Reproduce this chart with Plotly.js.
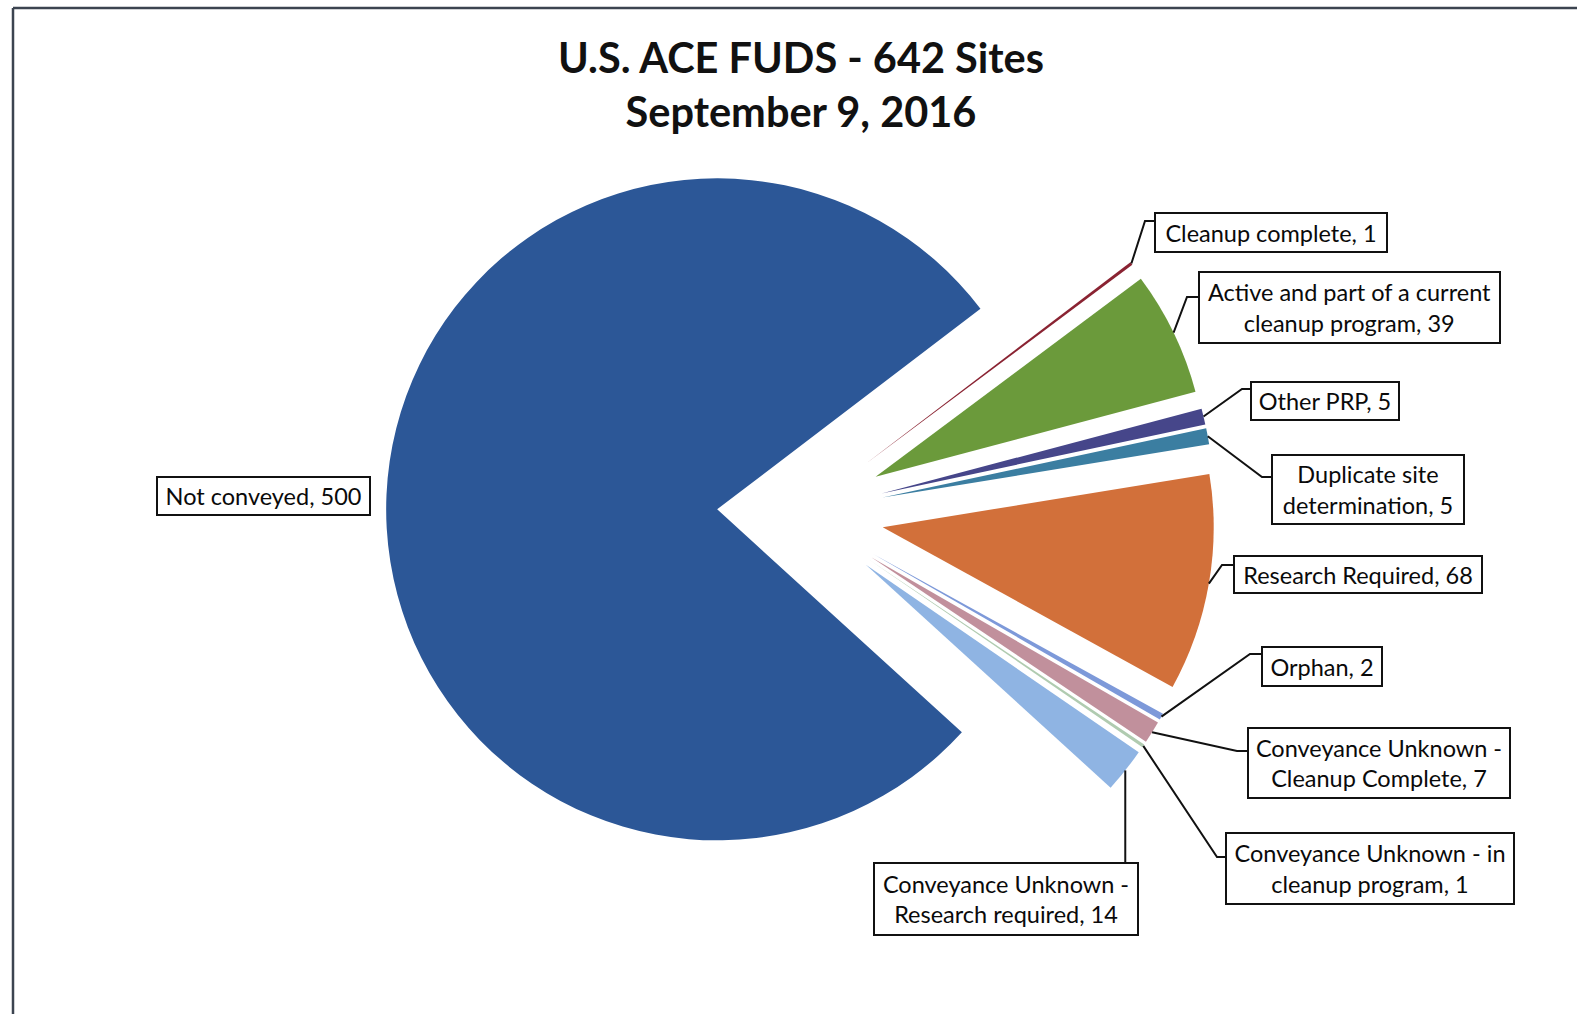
<!DOCTYPE html>
<html><head><meta charset="utf-8">
<script src="https://cdn.plot.ly/plotly-3.0.1.min.js"></script>
<style>html,body{margin:0;padding:0;background:#fff;}#chart{width:1577px;height:1014px;}</style>
</head><body><div id="chart"></div>
<script>
// ---- data ----
const categories = ['Cleanup complete', 'Active and part of a current cleanup program', 'Other PRP',
  'Duplicate site determination', 'Research Required', 'Orphan',
  'Conveyance Unknown - Cleanup Complete', 'Conveyance Unknown - in cleanup program',
  'Conveyance Unknown - Research required', 'Not conveyed'];
const siteCounts = [1, 39, 5, 5, 68, 2, 7, 1, 14, 500];
const sliceColors = ['#8a2332', '#6b9a3b', '#46468a', '#3b7ea1', '#d2703a', '#7d99d9',
  '#c1909c', '#b0cbb0', '#8fb4e3', '#2c5797'];
const titleText = 'U.S. ACE FUDS - 642 Sites<br>September 9, 2016';

// ---- layout (pixels) ----
const W = 1577, H = 1014;
const pieCx = 800.5, pieCy = 513, pieR = 331, pullFrac = 0.252, rotationDeg = 52.7;
const breakAfterWord = [0, 6, 0, 2, 0, 0, 3, 4, 3, 0];
const boxes = [ // [left, right, top, bottom]
  [1155, 1387, 213, 252], [1199, 1500, 272, 343], [1251, 1399, 382, 420], [1272, 1464, 455, 524],
  [1234, 1482, 556, 593], [1262, 1382, 647, 686], [1248, 1510, 728, 798], [1226, 1514, 833, 904],
  [874, 1138, 863, 935], [157, 370, 477, 515]];
const elbows = [[1145, 221], [1187, 297], [1242, 389], [1262, 477], [1222, 565], [1250, 654],
  [1237, 751], [1217, 857], 'down', null];

const px = x => x / W, py = y => 1 - y / H;
const half = pieR * (1 + pullFrac);

function labelText(i) {
  const words = (categories[i] + ', ' + siteCounts[i]).split(' ');
  const k = breakAfterWord[i];
  if (!k) return words.join(' ');
  return words.slice(0, k).join(' ') + '<br>' + words.slice(k).join(' ');
}

const total = siteCounts.reduce((a, b) => a + b, 0);
let cum = 0;
const shapes = [];
const annotations = [];
siteCounts.forEach((v, i) => {
  const midDeg = rotationDeg + 360 * (cum + v / 2) / total;
  cum += v;
  const a = midDeg * Math.PI / 180;
  const tipX = pieCx + half * Math.sin(a), tipY = pieCy - half * Math.cos(a);
  const b = boxes[i];
  annotations.push({
    xref: 'paper', yref: 'paper', x: px((b[0] + b[1]) / 2), y: py((b[2] + b[3]) / 2),
    xanchor: 'center', yanchor: 'middle', showarrow: false, text: labelText(i),
    font: {family: 'Lato, "Open Sans", sans-serif', size: 23.5, color: '#0a0a0a'},
    bgcolor: '#ffffff', bordercolor: '#111', borderwidth: 2, borderpad: 0,
    width: b[1] - b[0] - 2, height: b[3] - b[2] - 2, align: 'center'
  });
  const e = elbows[i];
  if (e === 'down') {
    shapes.push({type: 'line', xref: 'paper', yref: 'paper', x0: px(tipX), y0: py(tipY), x1: px(tipX), y1: py(b[2]),
      line: {color: '#111', width: 2}});
  } else if (e) {
    shapes.push({type: 'path', xref: 'paper', yref: 'paper',
      path: `M ${px(tipX)},${py(tipY)} L ${px(e[0])},${py(e[1])} L ${px(b[0])},${py(e[1])}`,
      line: {color: '#111', width: 2}});
  }
});

// frame
shapes.push({type: 'line', xref: 'paper', yref: 'paper', x0: px(13), y0: py(8), x1: 1, y1: py(8), line: {color: '#3c4450', width: 2.5}});
shapes.push({type: 'line', xref: 'paper', yref: 'paper', x0: px(13), y0: py(8), x1: px(13), y1: 0, line: {color: '#3c4450', width: 2.5}});

const trace = {
  type: 'pie', labels: categories, values: siteCounts, sort: false, direction: 'clockwise',
  rotation: rotationDeg, pull: siteCounts.map(() => pullFrac),
  marker: {colors: sliceColors, line: {width: 0}}, textinfo: 'none', hoverinfo: 'label+value',
  showlegend: false,
  domain: {x: [px(pieCx - half), px(pieCx + half)], y: [py(pieCy + half), py(pieCy - half)]}
};

const layout = {
  width: W, height: H, margin: {l: 0, r: 0, t: 0, b: 0}, paper_bgcolor: '#fff',
  showlegend: false,
  title: {text: titleText, xref: 'container', yref: 'container', x: px(801), y: 1 - 73 / H,
    xanchor: 'center', yanchor: 'top',
    font: {family: 'Lato, "Open Sans", sans-serif', size: 41.5, weight: 'bold', color: '#111'}},
  shapes: shapes, annotations: annotations
};
Plotly.newPlot('chart', [trace], layout, {displayModeBar: false, staticPlot: true});
</script></body></html>
